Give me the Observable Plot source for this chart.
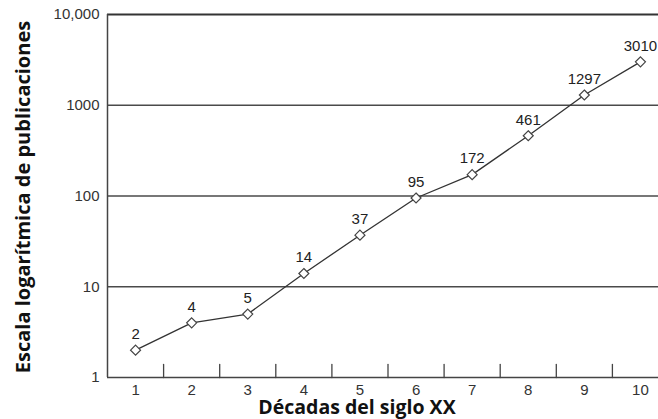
<!DOCTYPE html>
<html>
<head>
<meta charset="utf-8">
<script src="https://cdn.jsdelivr.net/npm/d3@7"></script>
<script src="https://cdn.jsdelivr.net/npm/@observablehq/plot@0.6"></script>
<style>
  html, body { margin: 0; padding: 0; background: #fff; overflow: hidden; }
  #chart svg { display: block; }
</style>
</head>
<body>
<div id="chart"></div>
<script>
// Publications per decade of the 20th century (log scale)
const decades = [1, 2, 3, 4, 5, 6, 7, 8, 9, 10];
const publications = [2, 4, 5, 14, 37, 95, 172, 461, 1297, 3010];

// Y axis ticks and their printed labels
const yTicks = [1, 10, 100, 1000, 10000];
const yTickLabels = ["1", "10", "100", "1000", "10,000"];

// Separators between decades on the x axis
const decadeBounds = [1.5, 2.5, 3.5, 4.5, 5.5, 6.5, 7.5, 8.5, 9.5];

const xTitle = "Décadas del siglo XX";
const yTitle = "Escala logarítmica de publicaciones";

const data = decades.map((d, i) => ({decade: d, value: publications[i]}));

// upward tick shape for the x axis separators
const tickUp = {draw(ctx, l) { ctx.moveTo(0, 0); ctx.lineTo(0, -l); }};

const labelFont = "'Liberation Sans', Arial, sans-serif";
const titleFont = "'Open Sans', 'Noto Sans', sans-serif";

const chart = Plot.plot({
  width: 658,
  height: 419,
  marginLeft: 107,
  marginTop: 14,
  marginBottom: 42,
  marginRight: -10,
  x: {type: "linear", domain: [0.5, 10.5], axis: null},
  y: {type: "log", domain: [1, 10000], axis: null},
  style: {background: "#fff"},
  marks: [
    // horizontal grid lines at each decade of the log scale
    Plot.ruleY(yTicks.slice(1, -1), {stroke: "#4a4a4a", strokeWidth: 1.5}),
    Plot.ruleY([yTicks[yTicks.length - 1]], {stroke: "#333", strokeWidth: 2.2}),
    // axis lines
    Plot.ruleY([yTicks[0]], {stroke: "#444", strokeWidth: 1.5}),
    Plot.ruleX([0.5], {y1: yTicks[0], y2: yTicks[yTicks.length - 1], stroke: "#444", strokeWidth: 1.5}),
    // decade separators pointing up from the x axis
    Plot.vector(decadeBounds, {x: d => d, frameAnchor: "bottom", anchor: "start", length: 13, shape: tickUp, stroke: "#444", strokeWidth: 1.3}),
    // y tick labels
    Plot.text(yTicks, {y: d => d, frameAnchor: "left", text: (d, i) => yTickLabels[i], textAnchor: "end", lineAnchor: "middle", dx: -8, fontSize: 15, fill: "#333", fontFamily: labelFont}),
    // x tick labels
    Plot.text(decades, {x: d => d, frameAnchor: "bottom", text: d => String(d), textAnchor: "middle", lineAnchor: "middle", dy: 13, fontSize: 15, fill: "#333", fontFamily: labelFont}),
    // the series
    Plot.line(data, {x: "decade", y: "value", stroke: "#333", strokeWidth: 1.3}),
    Plot.dot(data, {x: "decade", y: "value", symbol: "diamond2", r: 4.5, stroke: "#444", strokeWidth: 1.2, fill: "#fff"}),
    Plot.text(data, {x: "decade", y: "value", text: d => String(d.value), dy: -16, fontSize: 15, fill: "#222", fontFamily: labelFont}),
    // axis titles
    Plot.text([xTitle], {frameAnchor: "bottom", text: d => d, textAnchor: "middle", lineAnchor: "middle", dx: -31, dy: 30, fontSize: 19.5, fontWeight: "bold", fill: "#111", fontFamily: titleFont}),
    Plot.text([yTitle], {frameAnchor: "left", text: d => d, textAnchor: "middle", lineAnchor: "middle", rotate: -90, dx: -84, dy: 1, fontSize: 20, fontWeight: "bold", fill: "#111", fontFamily: titleFont})
  ]
});

document.getElementById("chart").appendChild(chart);
</script>
</body>
</html>
